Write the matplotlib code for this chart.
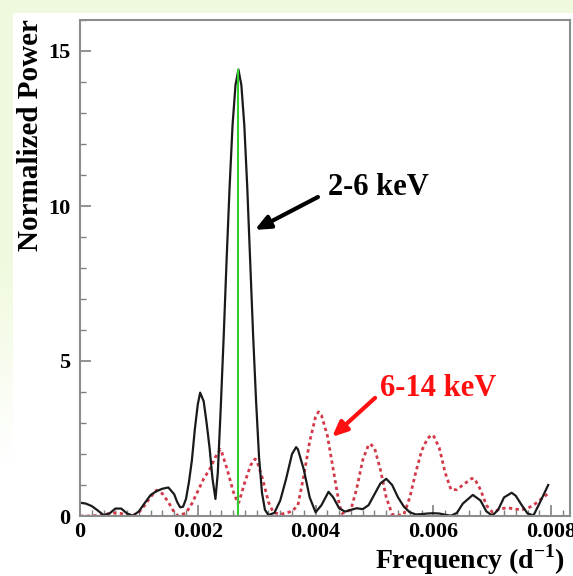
import numpy as np
import matplotlib.pyplot as plt
from matplotlib.ticker import MultipleLocator

plt.rcParams['mathtext.fontset'] = 'custom'
plt.rcParams['mathtext.rm'] = 'Liberation Serif'
plt.rcParams['mathtext.bf'] = 'Liberation Serif:bold'

# 2-6 keV periodogram (black solid)
freq_soft = [0.0, 0.0001, 0.0002, 0.0003, 0.0004, 0.0005, 0.0006, 0.0007, 0.0008, 0.0009,
             0.0010, 0.0011, 0.0012, 0.0013, 0.0014, 0.0015, 0.0016, 0.00165, 0.0017, 0.00175,
             0.0018, 0.00185, 0.0019, 0.00195, 0.0020, 0.00204, 0.0021, 0.00215, 0.0022, 0.00225,
             0.0023, 0.00234, 0.00239, 0.00244, 0.00249, 0.00254, 0.00259, 0.00264, 0.00269, 0.00274,
             0.00279, 0.00284, 0.00289, 0.00294, 0.00299, 0.00304, 0.00309, 0.00314, 0.0032, 0.0033,
             0.0034, 0.0035, 0.0036, 0.00367, 0.0037, 0.0038, 0.0039, 0.0040, 0.0041, 0.00422,
             0.0043, 0.0044, 0.0045, 0.0046, 0.0047, 0.0048, 0.0049, 0.0050, 0.0051, 0.0052,
             0.0053, 0.0054, 0.0055, 0.0056, 0.0057, 0.0058, 0.0059, 0.0060, 0.0061, 0.0062,
             0.0063, 0.0064, 0.0065, 0.00667, 0.0068, 0.0069, 0.0070, 0.0071, 0.0072, 0.00733,
             0.0074, 0.0075, 0.0076, 0.0077, 0.0078, 0.00795]
power_soft = [0.43, 0.40, 0.32, 0.18, 0.03, 0.08, 0.24, 0.24, 0.08, 0.01,
              0.15, 0.42, 0.68, 0.80, 0.88, 0.92, 0.70, 0.45, 0.28, 0.30,
              0.55, 1.1, 1.8, 2.8, 3.6, 3.98, 3.7, 3.0, 2.2, 1.2,
              0.55, 1.4, 3.5, 5.8, 8.3, 10.6, 12.6, 13.9, 14.4, 13.9,
              12.6, 10.6, 8.2, 5.8, 3.7, 1.9, 0.75, 0.2, 0.03, 0.1,
              0.5, 1.2, 2.0, 2.22, 2.15, 1.5, 0.6, 0.12, 0.35, 0.78,
              0.6, 0.25, 0.14, 0.2, 0.25, 0.22, 0.35, 0.7, 1.05, 1.2,
              1.0, 0.6, 0.3, 0.12, 0.05, 0.06, 0.08, 0.09, 0.08, 0.04,
              0.01, 0.1, 0.4, 0.68, 0.5, 0.15, 0.01, 0.2, 0.6, 0.75,
              0.65, 0.35, 0.08, 0.02, 0.4, 1.0]

# 6-14 keV periodogram (red dotted)
freq_hard = [0.0, 0.0001, 0.0002, 0.0003, 0.0004, 0.0005, 0.0006, 0.0007, 0.0008, 0.0009,
             0.0010, 0.0011, 0.0012, 0.0013, 0.0014, 0.0015, 0.0016, 0.00167, 0.0018, 0.0019,
             0.0020, 0.0021, 0.0022, 0.0023, 0.00238, 0.0024, 0.0025, 0.0026, 0.00268, 0.0027,
             0.0028, 0.0029, 0.00297, 0.0030, 0.0031, 0.0032, 0.00328, 0.0034, 0.0035, 0.0036,
             0.0037, 0.0038, 0.0039, 0.0040, 0.00405, 0.0041, 0.0042, 0.0043, 0.0044, 0.00445,
             0.0046, 0.0047, 0.0048, 0.0049, 0.00493, 0.0050, 0.0051, 0.0052, 0.0053, 0.0054,
             0.0055, 0.0056, 0.0057, 0.0058, 0.0059, 0.00597, 0.0060, 0.0061, 0.0062, 0.0063,
             0.0064, 0.0065, 0.00665, 0.0067, 0.0068, 0.0069, 0.0070, 0.0071, 0.0072, 0.0073,
             0.0074, 0.0075, 0.0076, 0.0077, 0.0078, 0.00795]
power_hard = [0.0, 0.0, 0.0, 0.02, 0.05, 0.08, 0.1, 0.08, 0.03, 0.02,
              0.12, 0.35, 0.62, 0.83, 0.72, 0.45, 0.12, 0.0, 0.1, 0.4,
              0.8, 1.2, 1.5, 1.9, 2.15, 2.1, 1.5, 0.8, 0.41, 0.45,
              1.1, 1.65, 1.84, 1.8, 1.2, 0.45, 0.12, 0.05, 0.1, 0.15,
              0.35, 1.3, 2.4, 3.2, 3.36, 3.25, 2.6, 1.5, 0.4, 0.08,
              0.2, 0.9, 1.8, 2.3, 2.32, 2.2, 1.5, 0.6, 0.05, 0.02,
              0.05, 0.6, 1.4, 2.1, 2.5, 2.61, 2.6, 2.2, 1.4, 0.85,
              0.85, 1.0, 1.21, 1.2, 0.85, 0.35, 0.12, 0.2, 0.25, 0.25,
              0.22, 0.2, 0.25, 0.35, 0.5, 0.73]

peak_freq = 0.00268
peak_power = 14.4

fig = plt.figure(figsize=(5.73, 5.76), dpi=100)

# pale green slide background fading towards the bottom
h, w = 576, 576
bg = np.ones((h, w, 3))
green = np.array([0.94, 0.98, 0.87])
yy, xx = np.mgrid[0:h, 0:w]
edge = (xx < 13) | (yy < 13)
fade = np.clip((460 - yy) / 200.0, 0, 1)
mask = edge * np.maximum(fade, (yy < 13))
bg = bg * (1 - mask[..., None]) + green * mask[..., None]
bax = fig.add_axes([0, 0, 1, 1])
bax.imshow(bg, aspect='auto', extent=[0, 1, 0, 1])
bax.axis('off')

ax = fig.add_axes([80 / 573, 60 / 576, 490 / 573, 496 / 576])
ax.set_facecolor('white')

ax.plot(freq_hard, power_hard, color='#d23a4a', lw=2.0, linestyle=(0, (1.2, 1.2)))
ax.plot(freq_soft, power_soft, color='#1a1a1a', lw=1.6)
ax.plot([peak_freq, peak_freq], [0, peak_power], color='#33cc33', lw=1.5)

ax.set_xlim(0, 0.00832)
ax.set_ylim(0, 16)
ax.xaxis.set_major_locator(MultipleLocator(0.002))
ax.xaxis.set_minor_locator(MultipleLocator(0.0002))
ax.yaxis.set_major_locator(MultipleLocator(5))
ax.yaxis.set_minor_locator(MultipleLocator(1))
ax.xaxis.set_major_formatter(plt.FuncFormatter(lambda v, p: '0' if v == 0 else f'{v:.3f}'))

serif = 'Liberation Serif'
ax.tick_params(which='both', direction='in', color='#808080', top=False, right=False)
ax.tick_params(which='major', length=8, width=1.2, pad=4)
ax.tick_params(axis='y', which='major', pad=7)
ax.tick_params(which='minor', length=4, width=1.0)
for lab in ax.get_xticklabels() + ax.get_yticklabels():
    lab.set_fontfamily(serif)
    lab.set_fontweight('bold')
    lab.set_fontsize(16)

for sp in ax.spines.values():
    sp.set_color('#8c8c8c')
    sp.set_linewidth(1.5)

ax.set_xlabel('Frequency (d$^{\\mathbf{-1}}$)', fontfamily=serif, fontweight='bold',
              fontsize=20, loc='right')
ax.xaxis.set_label_coords(0.99, -0.054)
ax.set_ylabel('Normalized Power', fontfamily=serif, fontweight='bold', fontsize=21)
ax.yaxis.set_label_coords(-0.074, 0.768)

arrow = dict(arrowstyle='-|>,head_length=0.9,head_width=0.4', lw=3, shrinkA=0, shrinkB=0)
ax.text(0.00421, 10.35, '2-6 keV', fontfamily=serif, fontweight='bold', fontsize=22,
        color='black')
ax.annotate('', xy=(0.00297, 9.23), xytext=(0.00404, 10.29),
            arrowprops=dict(arrow, color='black'))
ax.text(0.00509, 3.87, '6-14 keV', fontfamily=serif, fontweight='bold', fontsize=22,
        color='#ff1010')
ax.annotate('', xy=(0.00428, 2.55), xytext=(0.00501, 3.81),
            arrowprops=dict(arrow, color='#ff1010'))

fig.savefig('out.png', dpi=100)
